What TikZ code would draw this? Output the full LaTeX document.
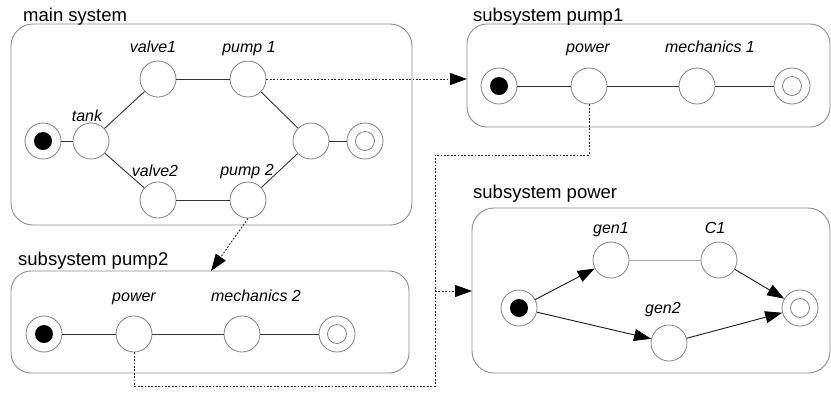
\documentclass[tikz,border=0pt]{standalone}
\usepackage{fontspec}
\setmainfont{Liberation Sans}
\usetikzlibrary{arrows.meta}
\begin{document}
\begin{tikzpicture}[x=1pt,y=-1pt,
  sysbox/.style={draw=black!45, line width=0.9pt, rounded corners=22pt},
  title/.style={anchor=base west, inner sep=0pt, font=\fontsize{18.5}{22}\selectfont},
  lbl/.style={anchor=base, inner sep=0pt, font=\itshape\fontsize{16}{19}\selectfont},
  state/.style={circle, draw=black!50, line width=0.8pt, minimum size=36pt, inner sep=0pt},
  startst/.style={state, path picture={\fill[black] (path picture bounding box.center) circle (9pt);}},
  endst/.style={state, path picture={\draw[black!50, line width=0.8pt] (path picture bounding box.center) circle (9.5pt);}},
  edge/.style={draw=black!80, line width=0.9pt},
  lightedge/.style={draw=black!35, line width=0.9pt},
  tip/.style={-{Triangle[length=17pt,width=12pt,color=black]}},
  arr/.style={draw=black!90, line width=0.9pt, tip},
  link/.style={draw=black!85, line width=0.9pt, dash pattern=on 1.8pt off 1.6pt},
  linkarr/.style={link, tip}
]
\useasboundingbox (0,0) rectangle (831,392);

% ---------- boxes ----------
\draw[sysbox] (11,24) rectangle (412,225);
\draw[sysbox, rounded corners=20pt] (467,24) rectangle (830,127);
\draw[sysbox, rounded corners=20pt] (11,271) rectangle (409,373);
\draw[sysbox] (472,208) rectangle (830,373);

\node[title] (t0) at (23,21) {main system};
\node[title] (t1) at (473,21) {subsystem pump1};
\node[title] (t2) at (18,265) {subsystem pump2};
\node[title] (t3) at (473,198) {subsystem power};

% ---------- main system ----------
\node[startst] (m0) at (43,141) {};
\node[state] (tank) at (91,141) {};
\node[state] (valve1) at (158,79) {};
\node[state] (pump1) at (248,79) {};
\node[state] (valve2) at (158,200) {};
\node[state] (pump2) at (248,200) {};
\node[state] (join) at (311,141) {};
\node[endst] (m9) at (365,141) {};

\node[lbl] (lv1) at (153,52) {valve1};
\node[lbl] (lp1) at (249,52) {pump 1};
\node[lbl] (lt) at (87,121) {tank};
\node[lbl] (lv2) at (155,176) {valve2};
\node[lbl] (lp2) at (247,175) {pump 2};

\draw[edge] (m0) -- (tank);
\draw[edge] (tank) -- (valve1);
\draw[edge] (valve1) -- (pump1);
\draw[edge] (pump1) -- (join);
\draw[edge] (tank) -- (valve2);
\draw[edge] (valve2) -- (pump2);
\draw[edge] (pump2) -- (join);
\draw[edge] (join) -- (m9);

% ---------- subsystem pump1 ----------
\node[startst] (a0) at (499,86) {};
\node[state] (apower) at (589,86) {};
\node[state] (amech) at (697,86) {};
\node[endst] (a9) at (792,86) {};
\node[lbl] (lap) at (588,52) {power};
\node[lbl] (lam) at (710,52) {mechanics 1};
\draw[edge] (a0) -- (apower);
\draw[edge] (apower) -- (amech);
\draw[edge] (amech) -- (a9);

% ---------- subsystem pump2 ----------
\node[startst] (b0) at (44,334) {};
\node[state] (bpower) at (134,334) {};
\node[state] (bmech) at (242,334) {};
\node[endst] (b9) at (337,334) {};
\node[lbl] (lbp) at (134,301) {power};
\node[lbl] (lbm) at (256,301) {mechanics 2};
\draw[edge] (b0) -- (bpower);
\draw[edge] (bpower) -- (bmech);
\draw[edge] (bmech) -- (b9);

% ---------- subsystem power ----------
\node[startst] (c0) at (519,308) {};
\node[state] (gen1) at (611,260) {};
\node[state] (c1) at (719,260) {};
\node[state] (gen2) at (669,343) {};
\node[endst] (c9) at (800,308) {};
\node[lbl] (lg1) at (611,233) {gen1};
\node[lbl] (lc1) at (715,233) {C1};
\node[lbl] (lg2) at (663,313) {gen2};
\draw[arr] (c0) -- (gen1);
\draw[lightedge] (gen1) -- (c1);
\draw[arr] (c1) -- (c9);
\draw[arr] (c0) -- (gen2);
\draw[arr] (gen2) -- (c9);

% ---------- refinement links ----------
\coordinate (in1) at (467,79);
\coordinate (in2) at (211,271);
\coordinate (k1) at (435,155);
\coordinate (k2) at (435,291);
\coordinate (k3) at (435,386);
\coordinate (in3) at (472,291);

\draw[linkarr] (pump1.east) -- (in1);
\draw[linkarr] (pump2.south) -- (in2);
\draw[link] (apower.south) |- (k1) -- (k2);
\draw[linkarr] (k2) -- (in3);
\draw[link] (bpower.south) |- (k3) -- (k2);
\end{tikzpicture}
\end{document}
